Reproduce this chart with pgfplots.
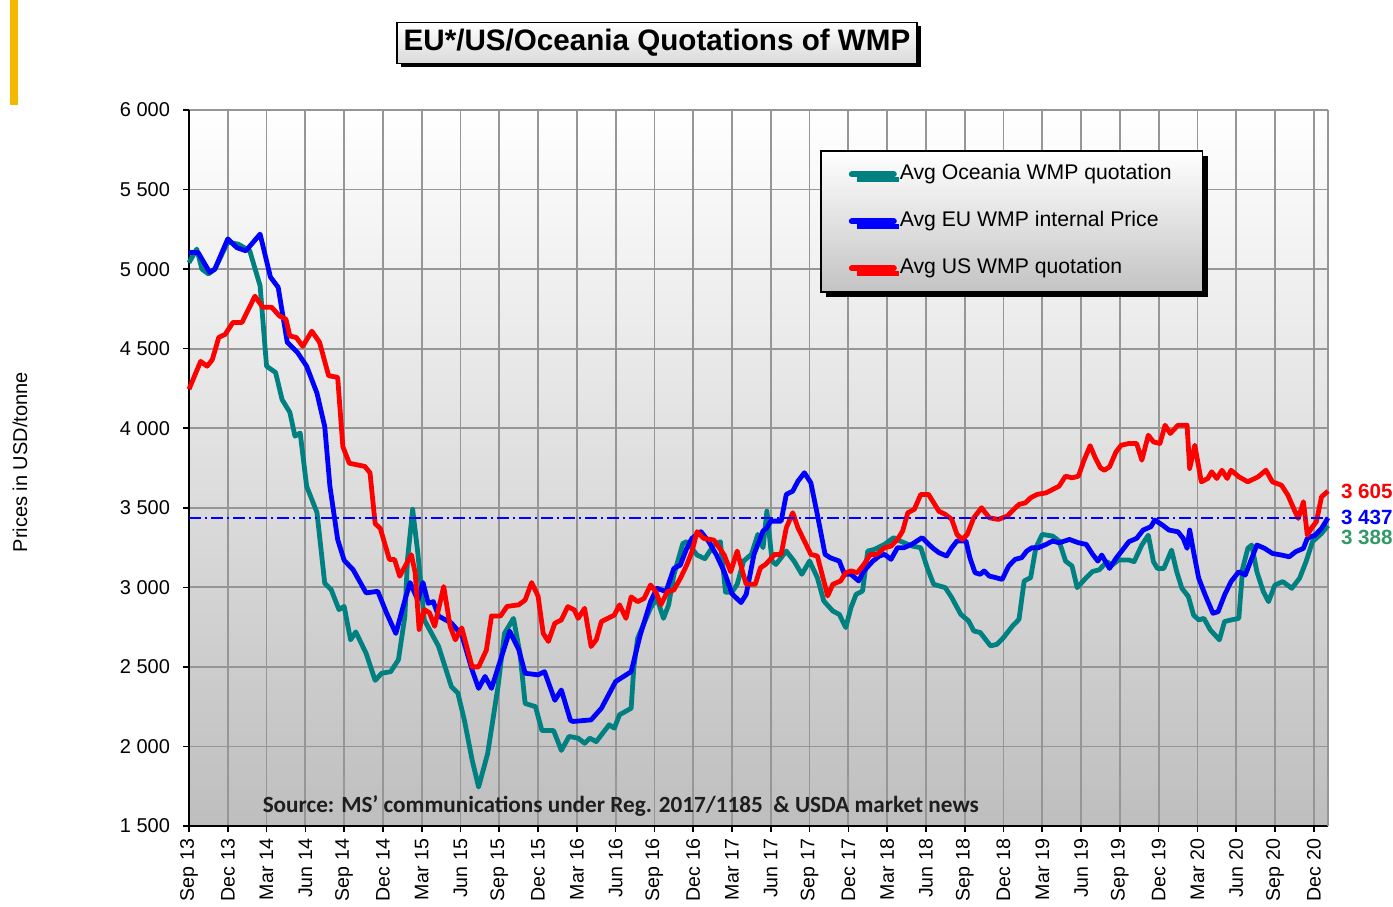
\documentclass[border=0pt]{standalone}
\usepackage{fontspec}
\setmainfont{Liberation Sans}
\newfontfamily\carlito{Carlito}
\usepackage{pgfplots}
\usepackage{pgfplotstable}
\pgfplotsset{compat=1.18}
\usetikzlibrary{shadows}
\definecolor{oce}{RGB}{0,128,128}
\definecolor{eu}{RGB}{0,0,255}
\definecolor{us}{RGB}{255,0,0}
\definecolor{gridc}{RGB}{150,150,150}
\definecolor{lblgreen}{RGB}{51,153,102}
\definecolor{barorange}{RGB}{245,184,0}

\pgfplotstableread{
m v
0 5040
0.6 5126
1.0 5000
1.5 4970
2.0 5000
3.0 5170
3.8 5157
4.7 5115
5.5 4895
6.0 4390
6.7 4350
7.2 4180
7.8 4100
8.2 3950
8.6 3970
9.1 3635
9.9 3470
10.5 3025
11.0 2985
11.6 2860
12.0 2880
12.5 2670
12.9 2720
13.7 2585
14.4 2415
14.9 2460
15.6 2470
16.2 2545
16.7 2820
16.9 3175
17.3 3490
17.7 3215
18.1 2880
18.2 2795
19.3 2630
20.3 2375
20.8 2335
21.3 2165
21.9 1915
22.4 1745
23.1 1955
23.9 2375
24.4 2710
25.1 2805
25.6 2585
26.0 2270
26.8 2250
27.3 2100
28.2 2100
28.8 1975
29.4 2063
30.1 2052
30.6 2020
31.0 2052
31.5 2030
32.1 2094
32.5 2136
32.9 2115
33.3 2199
34.2 2240
34.4 2492
34.7 2680
35.7 2870
36.2 2930
36.7 2805
37.1 2890
37.5 3077
38.2 3276
38.5 3287
39.3 3203
39.9 3180
40.6 3266
41.1 3287
41.5 2970
42.0 2970
42.4 3019
42.9 3165
43.5 3207
44.0 3333
44.4 3249
44.7 3479
45.1 3165
45.4 3144
46.2 3228
46.8 3165
47.4 3082
48.0 3165
48.6 3061
49.1 2914
49.8 2851
50.3 2830
50.8 2747
51.2 2872
51.6 2956
52.1 2977
52.5 3228
53.0 3238
53.8 3270
54.5 3312
55.0 3291
55.9 3260
56.6 3249
57.1 3123
57.6 3019
58.5 2998
59.0 2935
59.7 2830
60.3 2789
60.7 2726
61.2 2716
62.0 2632
62.5 2642
63.0 2684
63.7 2757
64.2 2799
64.6 3040
65.1 3061
65.5 3249
66.0 3333
66.8 3322
67.3 3291
67.8 3165
68.3 3134
68.7 2998
69.4 3061
69.9 3100
70.4 3110
71.0 3161
71.4 3140
71.9 3172
72.7 3172
73.1 3161
73.7 3266
74.2 3328
74.6 3161
74.9 3119
75.4 3119
76.0 3234
76.4 3098
76.8 2994
77.3 2942
77.7 2826
78.1 2795
78.5 2805
79.0 2732
79.7 2670
80.1 2785
80.6 2795
81.2 2805
81.5 3119
81.9 3245
82.2 3266
82.6 3098
83.1 2973
83.5 2910
84.0 3015
84.6 3036
85.3 2994
85.9 3057
86.4 3161
86.9 3287
87.6 3339
88.1 3388
}\oceania

\pgfplotstableread{
m v
0 5105
0.7 5105
1.6 4980
2.0 5000
3.0 5190
3.7 5135
4.4 5115
5.5 5220
6.3 4950
6.9 4885
7.6 4540
8.4 4475
9.1 4390
9.9 4220
10.5 4010
10.9 3635
11.5 3300
12.0 3170
12.7 3110
13.7 2965
14.6 2975
15.3 2835
16.0 2710
16.7 2920
17.1 3030
17.7 2920
18.1 3030
18.5 2900
18.9 2910
19.3 2820
20.3 2775
21.1 2700
21.9 2480
22.4 2365
22.9 2440
23.4 2365
24.1 2545
24.8 2725
25.5 2610
26.0 2460
27.0 2450
27.5 2470
28.3 2290
28.8 2355
29.5 2165
29.7 2157
31.1 2167
31.9 2240
33.0 2408
34.2 2470
34.9 2700
35.7 2910
36.2 2994
36.9 2973
37.5 3119
38.0 3140
38.5 3245
38.9 3308
39.6 3350
40.2 3287
40.8 3203
41.4 3098
42.0 2960
42.7 2904
43.1 2956
43.7 3207
44.4 3354
44.7 3374
45.0 3416
45.8 3416
46.2 3584
46.7 3605
47.1 3667
47.6 3720
48.1 3657
48.6 3458
49.2 3207
49.6 3186
50.3 3165
50.7 3082
51.2 3082
51.8 3040
52.2 3103
52.9 3165
53.4 3197
53.8 3207
54.3 3176
54.8 3249
55.3 3249
55.9 3270
56.7 3312
57.5 3249
58.0 3218
58.6 3197
59.0 3249
59.4 3291
60.1 3291
60.4 3186
60.8 3092
61.2 3082
61.5 3103
61.9 3071
62.4 3061
62.9 3050
63.4 3134
63.9 3176
64.4 3186
64.8 3228
65.2 3249
65.7 3249
66.3 3270
66.8 3291
67.3 3280
68.1 3301
68.8 3280
69.4 3270
69.9 3207
70.3 3165
70.6 3203
71.2 3119
71.7 3182
72.2 3234
72.7 3287
73.3 3308
73.8 3360
74.4 3381
74.7 3423
75.3 3391
75.8 3360
76.5 3349
76.9 3308
77.2 3245
77.4 3360
77.7 3224
78.1 3057
78.6 2952
79.2 2837
79.6 2847
80.1 2952
80.6 3036
81.2 3098
81.7 3077
82.2 3182
82.6 3266
83.2 3245
83.8 3213
84.5 3203
85.1 3192
85.6 3224
86.2 3245
86.5 3308
87.1 3328
87.6 3370
88.1 3437
}\eutab

\pgfplotstableread{
m v
0 4245
0.9 4420
1.4 4390
1.8 4430
2.3 4570
2.8 4590
3.4 4665
4.1 4665
5.1 4830
5.7 4760
6.4 4760
7.0 4705
7.5 4685
7.8 4580
8.3 4570
8.8 4515
9.5 4610
10.1 4540
10.8 4330
11.5 4320
11.9 3885
12.4 3780
13.6 3760
14.0 3720
14.4 3400
14.8 3370
15.5 3175
15.9 3175
16.3 3070
16.7 3130
17.2 3205
17.5 3090
17.8 2735
18.2 2860
18.6 2840
19.0 2755
19.7 3005
20.2 2755
20.6 2670
21.1 2745
21.9 2500
22.4 2500
23.0 2605
23.4 2820
24.1 2820
24.6 2880
25.5 2890
26.0 2920
26.5 3030
27.0 2945
27.4 2710
27.8 2660
28.3 2775
28.8 2795
29.3 2879
29.8 2858
30.1 2805
30.6 2868
31.1 2628
31.5 2670
31.9 2785
32.4 2805
32.9 2826
33.3 2890
33.8 2805
34.2 2940
34.7 2910
35.2 2930
35.7 3015
36.1 2973
36.5 2890
37.0 2973
37.5 2983
38.0 3056
38.5 3140
38.9 3224
39.3 3350
39.8 3308
40.6 3297
41.4 3203
41.9 3098
42.4 3228
42.8 3103
43.1 3019
43.8 3019
44.2 3123
44.6 3144
45.3 3207
45.8 3207
46.2 3374
46.7 3469
47.1 3374
47.6 3291
48.1 3207
48.6 3197
49.1 3040
49.4 2946
49.8 3019
50.4 3040
50.8 3092
51.2 3103
51.7 3092
52.2 3144
52.7 3207
53.2 3207
53.8 3249
54.3 3259
54.8 3301
55.2 3354
55.6 3469
56.1 3490
56.6 3584
57.2 3584
58.0 3479
58.5 3458
59.0 3427
59.4 3333
59.8 3301
60.2 3333
60.7 3437
61.3 3500
61.9 3437
62.6 3427
63.3 3448
63.8 3490
64.2 3521
64.7 3531
65.1 3563
65.6 3584
66.3 3594
66.8 3615
67.3 3636
67.8 3699
68.3 3688
68.8 3699
69.2 3793
69.7 3890
70.1 3814
70.5 3751
70.8 3736
71.2 3757
71.7 3851
72.1 3893
72.7 3904
73.3 3904
73.7 3799
74.2 3956
74.6 3914
75.1 3904
75.5 4019
75.9 3967
76.5 4019
77.2 4019
77.4 3747
77.8 3893
78.3 3663
78.8 3684
79.1 3726
79.5 3684
79.9 3736
80.3 3684
80.6 3736
81.2 3695
81.9 3663
82.7 3695
83.3 3736
83.8 3663
84.5 3642
85.0 3579
85.5 3485
85.8 3433
86.2 3538
86.5 3328
86.8 3370
87.2 3412
87.6 3569
88.1 3605
}\ustab

\begin{document}
\begin{tikzpicture}
\begin{axis}[
  at={(0,0)}, anchor=south west,
  width=569.5pt, height=358pt, scale only axis,
  xmin=0, xmax=88.1, ymin=1500, ymax=6000,
  axis x line*=bottom, axis y line*=left,
  axis line style={black, line width=0.9pt},
  xtick={0,3,...,87},
  xticklabels={Sep 13,Dec 13,Mar 14,Jun 14,Sep 14,Dec 14,Mar 15,Jun 15,Sep 15,Dec 15,Mar 16,Jun 16,Sep 16,Dec 16,Mar 17,Jun 17,Sep 17,Dec 17,Mar 18,Jun 18,Sep 18,Dec 18,Mar 19,Jun 19,Sep 19,Dec 19,Mar 20,Jun 20,Sep 20,Dec 20},
  xticklabel style={rotate=90, anchor=east, font=\fontsize{9.8}{10}\selectfont},
  ytick={1500,2000,2500,3000,3500,4000,4500,5000,5500,6000},
  yticklabels={1 500,2 000,2 500,3 000,3 500,4 000,4 500,5 000,5 500,6 000},
  yticklabel style={font=\fontsize{10}{11}\selectfont, xshift=-3pt},
  extra x ticks={88.1}, extra x tick labels={},
  extra x tick style={grid=major, major tick length=0pt},
  grid=major,
  major grid style={draw=gridc, line width=0.9pt},
  tick align=outside, major tick length=3pt,
  tick style={black, line width=0.8pt},
  axis background/.style={top color=white, bottom color={rgb,255:red,190;green,190;blue,190}},
  ylabel={Prices in USD/tonne},
  ylabel style={at={(axis description cs:-0.1484,0.508)}, anchor=center, rotate=0, font=\fontsize{10}{11}\selectfont},
  clip=false,
  legend cell align=left,
  legend image code/.code={\draw[#1, line width=3pt, line cap=round] (0pt,0pt) -- (21pt,0pt);},
  legend style={at={(0.554,0.944)}, anchor=north west, draw=black, line width=0.8pt,
    top color=white, bottom color={rgb,255:red,195;green,195;blue,195},
    drop shadow={shadow xshift=2.5pt, shadow yshift=-2.5pt, fill=black, opacity=1},
    font=\fontsize{10.6}{12}\selectfont, inner xsep=14pt, inner ysep=7pt, row sep=14pt,
    nodes={inner xsep=1.5pt, inner ysep=0pt, text height=7.5pt, text depth=2pt}},
]
\addplot[oce, line width=2.4pt, line join=round] table[x=m, y=v] {\oceania};
\addlegendentry{Avg Oceania WMP quotation}
\addplot[eu, line width=2.4pt, line join=round] table[x=m, y=v] {\eutab};
\addlegendentry{Avg EU WMP internal Price}
\addplot[us, line width=2.4pt, line join=round] table[x=m, y=v] {\ustab};
\addlegendentry{Avg US WMP quotation}
\addplot[eu, line width=0.8pt, dash pattern=on 6pt off 2pt on 1pt off 2pt, forget plot] coordinates {(0,3437) (88.1,3437)};
\node[anchor=west, text=us, font=\bfseries\fontsize{10.3}{11}\selectfont, xshift=3pt] at (axis cs:88.1,3605) {3 605};
\node[anchor=west, text=eu, font=\bfseries\fontsize{10.3}{11}\selectfont, xshift=3pt] at (axis cs:88.1,3440) {3 437};
\node[anchor=west, text=lblgreen, font=\bfseries\fontsize{10.3}{11}\selectfont, xshift=3pt] at (axis cs:88.1,3315) {3 388};
\node[font=\carlito\bfseries\fontsize{11.6}{13}\selectfont, text={rgb,255:red,30;green,30;blue,30}] at (axis cs:33.4,1623) {Source: MS’ communications under Reg. 2017/1185 \ \& USDA market news};
\end{axis}
\node[draw=black, line width=0.8pt, top color=white, bottom color=gray!30,
  drop shadow={shadow xshift=2pt, shadow yshift=-2pt, fill=black, opacity=1},
  minimum width=260pt, minimum height=20.5pt, inner sep=0pt,
  font=\bfseries\fontsize{14.8}{16}\selectfont] at (234pt,391.5pt) {EU*/US/Oceania Quotations of WMP};
\fill[barorange] (-89.5pt,360.5pt) rectangle (-85.5pt,413pt);
\pgfresetboundingbox
\useasboundingbox (-94.5pt,-40pt) rectangle (602pt,413pt);
\end{tikzpicture}
\end{document}
